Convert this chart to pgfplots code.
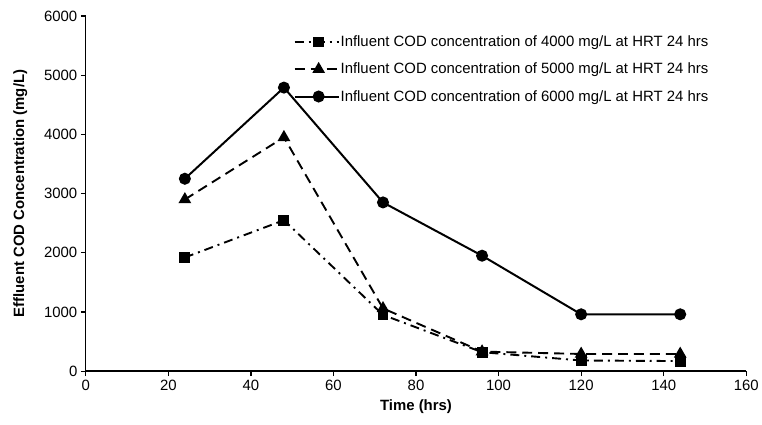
\documentclass[border=0pt]{standalone}
\usepackage{pgfplots}
\pgfplotsset{compat=1.18}
\usepackage{fontspec}
\setmainfont{Liberation Sans}

\begin{document}
\begin{tikzpicture}
\begin{axis}[
  scale only axis,
  width=662bp,
  height=356bp,
  xmin=0, xmax=160,
  ymin=0, ymax=6000,
  xtick={0,20,...,160},
  ytick={0,1000,...,6000},
  axis lines=left,
  axis line style={-, line width=1.4bp},
  tick align=outside,
  major tick length=5bp,
  tick style={line width=1.2bp, black},
  /pgf/number format/assume math mode=true,
  /pgf/number format/1000 sep={},
  tick label style={font=\fontsize{15}{17}\selectfont},
  xlabel={\textbf{Time (hrs)}},
  ylabel={\textbf{Effluent COD Concentration (mg/L)}},
  label style={font=\fontsize{15}{17}\selectfont},
  xlabel style={yshift=-3bp},
  ylabel style={at={(ticklabel cs:0.5,10bp)}},
  legend style={at={(0.31,0.953)}, anchor=north west, draw=none, fill=none,
    font=\fontsize{15}{17}\selectfont, row sep=13bp,
    nodes={inner sep=1bp}},
  legend cell align=left,
  legend image code/.code={
    \draw[mark repeat=2, mark phase=2, #1]
      plot coordinates {(0bp,0bp) (24bp,0bp) (44bp,0bp)};
  },
  clip=false,
]
\addplot[black, line width=1.9bp, dash pattern=on 9bp off 5bp on 2bp off 5bp,
  mark=square*, mark size=4.5bp, mark options={solid}]
  coordinates {(24,1920) (48,2550) (72,950) (96,320) (120,180) (144,170)};
\addplot[black, line width=1.9bp, dash pattern=on 10bp off 6bp,
  mark=triangle*, mark size=5.5bp, mark options={solid}]
  coordinates {(24,2900) (48,3950) (72,1060) (96,330) (120,290) (144,290)};
\addplot[black, line width=2bp,
  mark=*, mark size=5bp]
  coordinates {(24,3250) (48,4790) (72,2850) (96,1950) (120,960) (144,960)};
\legend{Influent COD concentration of 4000 mg/L at HRT 24 hrs,
        Influent COD concentration of 5000 mg/L at HRT 24 hrs,
        Influent COD concentration of 6000 mg/L at HRT 24 hrs}
\end{axis}
% margins as in the reference
\path (current axis.south west) ++(-86bp,-53bp);
\path (current axis.north west) ++(0,16bp);
\end{tikzpicture}
\end{document}
